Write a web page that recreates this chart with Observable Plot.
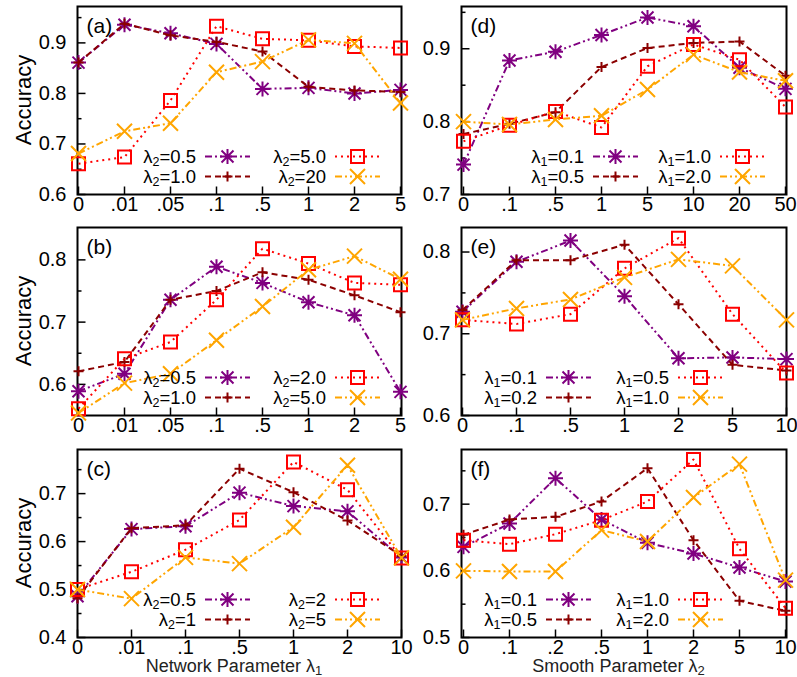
<!DOCTYPE html>
<html>
<head>
<meta charset="utf-8">
<script src="https://cdn.jsdelivr.net/npm/d3@7"></script>
<script src="https://cdn.jsdelivr.net/npm/@observablehq/plot@0.6"></script>
<style>
  html, body { margin: 0; padding: 0; background: #fff; }
  #chart { position: relative; width: 797px; height: 677px; overflow: hidden; font-family: 'Liberation Sans', Arial, Helvetica, sans-serif; }
  #chart svg { position: absolute; }
</style>
</head>
<body>
<div id="chart"></div>
<script>
// ---- x categories (tick labels) ----
const netTicks8 = ["0", ".01", ".05", ".1", ".5", "1", "2", "5"];      // panels (a), (b)
const netTicks7 = ["0", ".01", ".1", ".5", "1", "2", "10"];            // panel (c)
const smoothTicksD = ["0", ".1", ".5", "1", "5", "10", "20", "50"];    // panel (d)
const smoothTicksE = ["0", ".1", ".5", "1", "2", "5", "10"];           // panel (e)
const smoothTicksF = ["0", ".1", ".2", ".5", "1", "2", "5", "10"];     // panel (f)

// ---- y ticks ----
const yMajorA = [0.6, 0.7, 0.8, 0.9], yMinorA = [0.65, 0.75, 0.85, 0.95];
const yMajorB = [0.6, 0.7, 0.8],      yMinorB = [0.65, 0.75];
const yMajorC = [0.4, 0.5, 0.6, 0.7], yMinorC = [0.45, 0.55, 0.65, 0.75];
const yMajorD = [0.7, 0.8, 0.9],      yMinorD = [0.75, 0.85, 0.95];
const yMajorE = [0.6, 0.7, 0.8],      yMinorE = [0.65, 0.75];
const yMajorF = [0.5, 0.6, 0.7],      yMinorF = [0.55, 0.65, 0.75];

// ---- legend keys ----
const keysA = ["0.5", "1.0", "5.0", "20"];
const keysB = ["0.5", "1.0", "2.0", "5.0"];
const keysC = ["0.5", "1", "2", "5"];
const keysD = ["0.1", "0.5", "1.0", "2.0"];
const keysE = ["0.1", "0.2", "0.5", "1.0"];
const keysF = ["0.1", "0.5", "1.0", "2.0"];

// ---- accuracy values ----
// (a) network parameter, λ2 = 0.5, 1.0, 5.0, 20
const accA1 = [0.861, 0.936, 0.919, 0.898, 0.809, 0.811, 0.800, 0.807];
const accA2 = [0.861, 0.938, 0.915, 0.902, 0.883, 0.813, 0.806, 0.803];
const accA3 = [0.661, 0.674, 0.786, 0.933, 0.908, 0.905, 0.893, 0.890];
const accA4 = [0.681, 0.725, 0.741, 0.842, 0.863, 0.906, 0.899, 0.781];
// (b) network parameter, λ2 = 0.5, 1.0, 2.0, 5.0
const accB1 = [0.589, 0.617, 0.736, 0.789, 0.763, 0.732, 0.711, 0.588];
const accB2 = [0.621, 0.636, 0.736, 0.750, 0.780, 0.768, 0.743, 0.716];
const accB3 = [0.561, 0.641, 0.668, 0.736, 0.818, 0.794, 0.763, 0.760];
const accB4 = [0.554, 0.602, 0.617, 0.671, 0.725, 0.784, 0.806, 0.769];
// (c) network parameter, λ2 = 0.5, 1, 2, 5
const accC1 = [0.486, 0.626, 0.632, 0.702, 0.674, 0.663, 0.567];
const accC2 = [0.482, 0.628, 0.634, 0.752, 0.703, 0.644, 0.570];
const accC3 = [0.500, 0.537, 0.583, 0.645, 0.766, 0.708, 0.566];
const accC4 = [0.500, 0.481, 0.567, 0.554, 0.630, 0.759, 0.566];
// (d) smooth parameter, λ1 = 0.1, 0.5, 1.0, 2.0
const accD1 = [0.741, 0.884, 0.896, 0.919, 0.943, 0.931, 0.874, 0.845];
const accD2 = [0.783, 0.797, 0.813, 0.875, 0.901, 0.908, 0.910, 0.863];
const accD3 = [0.773, 0.795, 0.814, 0.792, 0.876, 0.906, 0.885, 0.820];
const accD4 = [0.800, 0.796, 0.803, 0.808, 0.844, 0.892, 0.868, 0.856];
// (e) smooth parameter, λ1 = 0.1, 0.2, 0.5, 1.0
const accE1 = [0.727, 0.788, 0.814, 0.746, 0.670, 0.671, 0.669];
const accE2 = [0.729, 0.790, 0.790, 0.809, 0.736, 0.662, 0.655];
const accE3 = [0.717, 0.712, 0.724, 0.780, 0.817, 0.724, 0.652];
const accE4 = [0.717, 0.731, 0.742, 0.769, 0.791, 0.783, 0.717];
// (f) smooth parameter, λ1 = 0.1, 0.5, 1.0, 2.0
const accF1 = [0.636, 0.671, 0.739, 0.677, 0.642, 0.626, 0.605, 0.584];
const accF2 = [0.654, 0.677, 0.681, 0.704, 0.754, 0.646, 0.555, 0.540];
const accF3 = [0.646, 0.640, 0.655, 0.676, 0.704, 0.767, 0.633, 0.544];
const accF4 = [0.600, 0.599, 0.599, 0.661, 0.644, 0.710, 0.760, 0.586];

// ---- point symbols (gnuplot-style) ----
const symAsterisk = { draw(c) { const r = 7.5, d = 6; c.moveTo(-r, 0); c.lineTo(r, 0); c.moveTo(0, -r); c.lineTo(0, r); c.moveTo(-d, -d); c.lineTo(d, d); c.moveTo(-d, d); c.lineTo(d, -d); } };
const symPlus = { draw(c) { const r = 5; c.moveTo(-r, 0); c.lineTo(r, 0); c.moveTo(0, -r); c.lineTo(0, r); } };
const symSquare = { draw(c) { const r = 6.5; c.moveTo(-r, -r); c.lineTo(r, -r); c.lineTo(r, r); c.lineTo(-r, r); c.closePath(); } };
const symTimes = { draw(c) { const r = 7.5; c.moveTo(-r, -r); c.lineTo(r, r); c.moveTo(-r, r); c.lineTo(r, -r); } };
const tickRight = len => ({ draw(c) { c.moveTo(0, 0); c.lineTo(len, 0); } });
const tickUp = len => ({ draw(c) { c.moveTo(0, 0); c.lineTo(0, -len); } });

const seriesStyle = [
  { color: "#800080", dash: "7,3,2,3,2,3", symbol: symAsterisk },
  { color: "#8b0000", dash: "6,4", symbol: symPlus },
  { color: "#ff0000", dash: "2,4", symbol: symSquare },
  { color: "#ffa500", dash: "7,3,2,3,2,3", symbol: symTimes }
];

const cols = [
  { left: 0, width: 410, ml: 77, mr: 9 },
  { left: 400, width: 397, ml: 61, mr: 11 }
];
const rows = [
  { top: 0, height: 222, mt: 6, mb: 28 },
  { top: 221, height: 222, mt: 6, mb: 28 },
  { top: 443, height: 234, mt: 6, mb: 40 }
];

const panels = [
  { label: "(a)", col: 0, row: 0, cats: netTicks8, series: [accA1, accA2, accA3, accA4], keys: keysA, param: "2", domain: [0.6, 0.972], major: yMajorA, minor: yMinorA, legendCols: [119, 249] },
  { label: "(b)", col: 0, row: 1, cats: netTicks8, series: [accB1, accB2, accB3, accB4], keys: keysB, param: "2", domain: [0.55, 0.852], major: yMajorB, minor: yMinorB, legendCols: [119, 249] },
  { label: "(c)", col: 0, row: 2, cats: netTicks7, series: [accC1, accC2, accC3, accC4], keys: keysC, param: "2", domain: [0.4, 0.792], major: yMajorC, minor: yMinorC, legendCols: [119, 249], title: ["Network Parameter λ", "1"] },
  { label: "(d)", col: 1, row: 0, cats: smoothTicksD, series: [accD1, accD2, accD3, accD4], keys: keysD, param: "1", domain: [0.7, 0.958], major: yMajorD, minor: yMinorD, legendCols: [123, 250] },
  { label: "(e)", col: 1, row: 1, cats: smoothTicksE, series: [accE1, accE2, accE3, accE4], keys: keysE, param: "1", domain: [0.6, 0.83], major: yMajorE, minor: yMinorE, legendCols: [76, 208] },
  { label: "(f)", col: 1, row: 2, cats: smoothTicksF, series: [accF1, accF2, accF3, accF4], keys: keysF, param: "1", domain: [0.5, 0.782], major: yMajorF, minor: yMinorF, legendCols: [76, 208], title: ["Smooth Parameter λ", "2"] }
];

const chart = document.getElementById("chart");
const fontFamily = "'Liberation Sans', Arial, Helvetica, sans-serif";

// text with a lowered, smaller index after the main part
function subscripted(textSel, main, sub, rest, subSize, shift) {
  textSel.append("tspan").text(main);
  textSel.append("tspan").attr("dy", shift).attr("font-size", subSize).text(sub);
  if (rest) textSel.append("tspan").attr("dy", -shift).text(rest);
}

for (const p of panels) {
  const c = cols[p.col], r = rows[p.row];
  const tickStyle = { stroke: "black", strokeWidth: 1.5, fill: "none" };
  const marks = [
    Plot.frame({ stroke: "black", strokeWidth: 2 }),
    Plot.dot(p.major, { y: d => d, frameAnchor: "left", symbol: tickRight(8), ...tickStyle }),
    Plot.dot(p.minor, { y: d => d, frameAnchor: "left", symbol: tickRight(4), ...tickStyle }),
    Plot.dot(p.cats, { x: d => d, frameAnchor: "bottom", symbol: tickUp(8), ...tickStyle }),
    Plot.axisY(p.major, { tickSize: 0, tickPadding: 11, tickFormat: d => d.toFixed(1), fontSize: 20, label: null }),
    Plot.axisX(p.cats, { tickSize: 0, tickPadding: 2, fontSize: 20, label: null })
  ];
  p.series.forEach((vals, i) => {
    const s = seriesStyle[i];
    marks.push(Plot.line(vals, { x: p.cats, y: vals, stroke: s.color, strokeWidth: 2, strokeDasharray: s.dash, strokeLinecap: "butt" }));
    marks.push(Plot.dot(vals, { x: p.cats, y: vals, symbol: s.symbol, stroke: s.color, fill: "none", strokeWidth: 2 }));
  });
  marks.push(Plot.text([p.label], { frameAnchor: "top-left", dx: 9, dy: 12, fontSize: 21 }));

  const svg = Plot.plot({
    width: c.width, height: r.height,
    marginLeft: c.ml, marginRight: c.mr, marginTop: r.mt, marginBottom: r.mb,
    x: { type: "point", domain: p.cats, padding: 0 },
    y: { domain: p.domain },
    style: { fontFamily, fontSize: "20px", background: "transparent", overflow: "visible", maxWidth: "none", color: "black" },
    marks
  });
  svg.style.left = c.left + "px";
  svg.style.top = r.top + "px";
  chart.appendChild(svg);

  const g = d3.select(svg).append("g").attr("font-family", fontFamily);
  const fl = c.ml, fb = r.height - r.mb, ft = r.mt;

  // key: two columns, two rows, inside the bottom of the frame
  p.keys.forEach((k, i) => {
    const s = seriesStyle[i];
    const xr = fl + p.legendCols[i < 2 ? 0 : 1];
    const y = fb - (i % 2 === 0 ? 37.5 : 17.5);
    const t = g.append("text").attr("x", xr).attr("y", y).attr("dy", "0.35em")
      .attr("text-anchor", "end").attr("font-size", 18.5).attr("fill", "black");
    subscripted(t, "λ", p.param, "=" + k, 12.5, 3);
    g.append("line").attr("x1", xr + 9).attr("x2", xr + 54).attr("y1", y).attr("y2", y)
      .attr("stroke", s.color).attr("stroke-width", 2).attr("stroke-dasharray", s.dash);
    g.append("path").attr("transform", `translate(${xr + 31.5},${y})`)
      .attr("d", d3.symbol().type(s.symbol)()).attr("fill", "none")
      .attr("stroke", s.color).attr("stroke-width", 2);
  });

  if (p.col === 0) {
    g.append("text").attr("transform", `translate(23,${(ft + fb) / 2}) rotate(-90)`)
      .attr("text-anchor", "middle").attr("dy", "0.35em").attr("font-size", 22)
      .attr("fill", "black").text("Accuracy");
  }
  if (p.title) {
    const t = g.append("text").attr("x", (fl + c.width - c.mr) / 2 - 5).attr("y", 229)
      .attr("text-anchor", "middle").attr("font-size", 18).attr("fill", "#222");
    subscripted(t, p.title[0], p.title[1], null, 13, 3);
  }
}
</script>
</body>
</html>
